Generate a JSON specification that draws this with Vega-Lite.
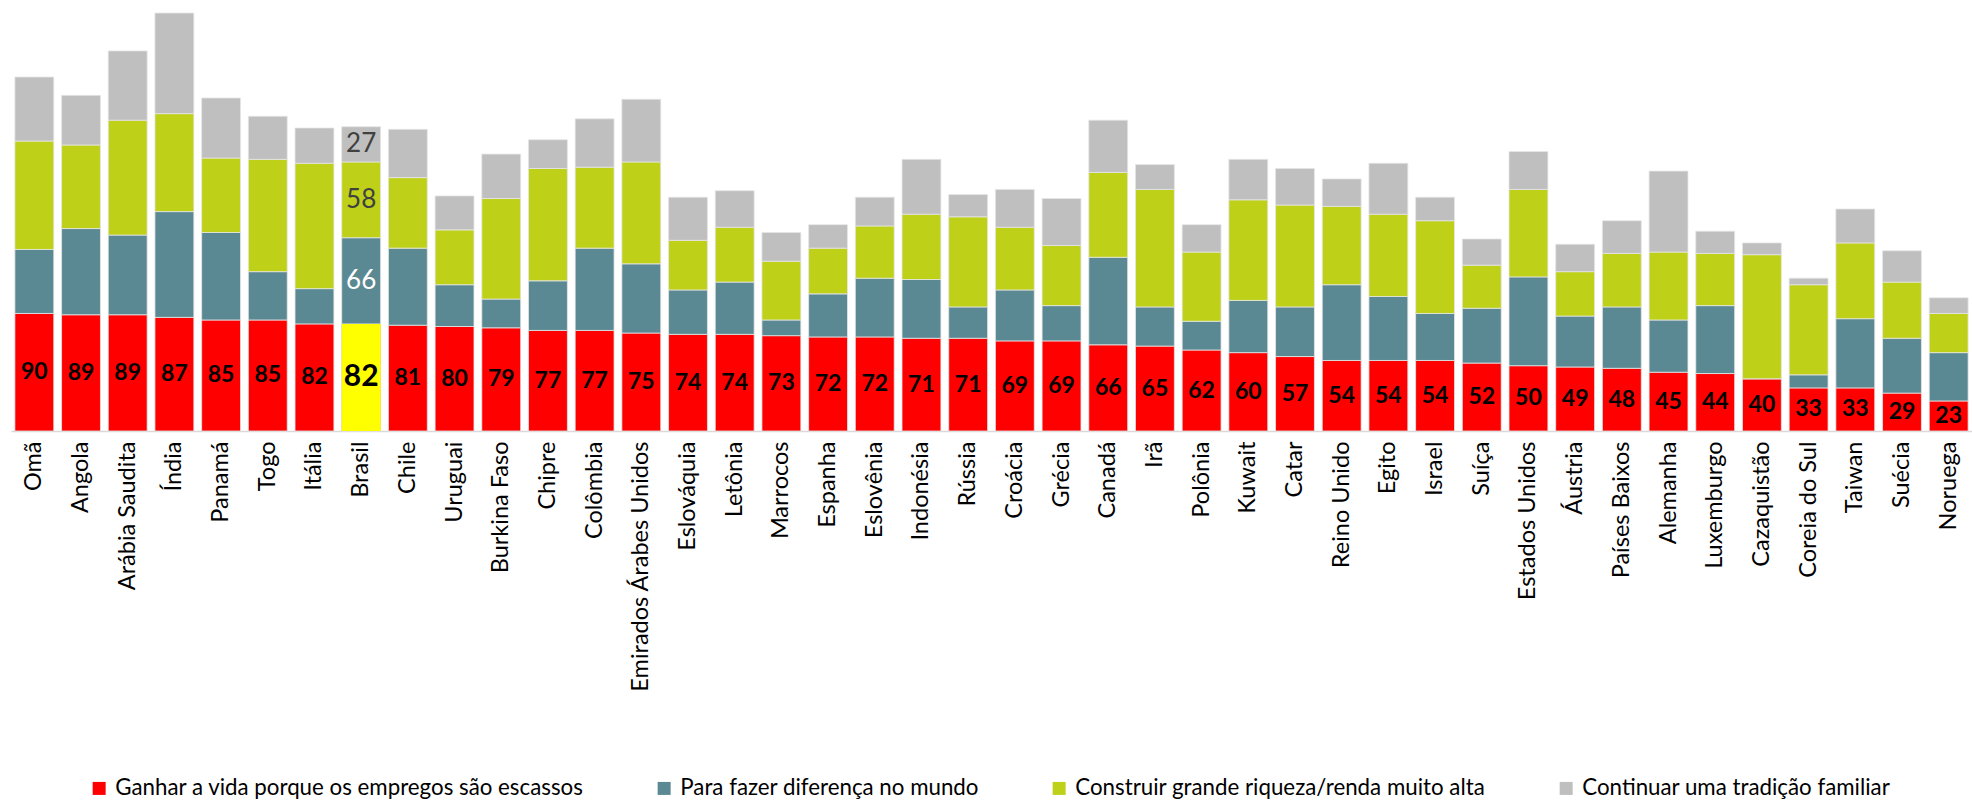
{
  "$schema": "https://vega.github.io/schema/vega-lite/v6.json",
  "width": 1961,
  "height": 431,
  "autosize": {"type": "none"},
  "padding": {"left": 11, "top": 0, "right": 0, "bottom": 370},
  "background": "white",
  "config": {"view": {"stroke": null}, "font": "Lato"},
  "datasets": {
    "wide": [
      {"pais": "Omã", "a": 90, "b": 49, "c": 83, "d": 49},
      {"pais": "Angola", "a": 89, "b": 66, "c": 64, "d": 38},
      {"pais": "Arábia Saudita", "a": 89, "b": 61, "c": 88, "d": 53},
      {"pais": "Índia", "a": 87, "b": 81, "c": 75, "d": 77},
      {"pais": "Panamá", "a": 85, "b": 67, "c": 57, "d": 46},
      {"pais": "Togo", "a": 85, "b": 37, "c": 86, "d": 33},
      {"pais": "Itália", "a": 82, "b": 27, "c": 96, "d": 27},
      {"pais": "Brasil", "a": 82, "b": 66, "c": 58, "d": 27},
      {"pais": "Chile", "a": 81, "b": 59, "c": 54, "d": 37},
      {"pais": "Uruguai", "a": 80, "b": 32, "c": 42, "d": 26},
      {"pais": "Burkina Faso", "a": 79, "b": 22, "c": 77, "d": 34},
      {"pais": "Chipre", "a": 77, "b": 38, "c": 86, "d": 22},
      {"pais": "Colômbia", "a": 77, "b": 63, "c": 62, "d": 37},
      {"pais": "Emirados Árabes Unidos", "a": 75, "b": 53, "c": 78, "d": 48},
      {"pais": "Eslováquia", "a": 74, "b": 34, "c": 38, "d": 33},
      {"pais": "Letônia", "a": 74, "b": 40, "c": 42, "d": 28},
      {"pais": "Marrocos", "a": 73, "b": 12, "c": 45, "d": 22},
      {"pais": "Espanha", "a": 72, "b": 33, "c": 35, "d": 18},
      {"pais": "Eslovênia", "a": 72, "b": 45, "c": 40, "d": 22},
      {"pais": "Indonésia", "a": 71, "b": 45, "c": 50, "d": 42},
      {"pais": "Rússia", "a": 71, "b": 24, "c": 69, "d": 17},
      {"pais": "Croácia", "a": 69, "b": 39, "c": 48, "d": 29},
      {"pais": "Grécia", "a": 69, "b": 27, "c": 46, "d": 36},
      {"pais": "Canadá", "a": 66, "b": 67, "c": 65, "d": 40},
      {"pais": "Irã", "a": 65, "b": 30, "c": 90, "d": 19},
      {"pais": "Polônia", "a": 62, "b": 22, "c": 53, "d": 21},
      {"pais": "Kuwait", "a": 60, "b": 40, "c": 77, "d": 31},
      {"pais": "Catar", "a": 57, "b": 38, "c": 78, "d": 28},
      {"pais": "Reino Unido", "a": 54, "b": 58, "c": 60, "d": 21},
      {"pais": "Egito", "a": 54, "b": 49, "c": 63, "d": 39},
      {"pais": "Israel", "a": 54, "b": 36, "c": 71, "d": 18},
      {"pais": "Suíça", "a": 52, "b": 42, "c": 33, "d": 20},
      {"pais": "Estados Unidos", "a": 50, "b": 68, "c": 67, "d": 29},
      {"pais": "Áustria", "a": 49, "b": 39, "c": 34, "d": 21},
      {"pais": "Países Baixos", "a": 48, "b": 47, "c": 41, "d": 25},
      {"pais": "Alemanha", "a": 45, "b": 40, "c": 52, "d": 62},
      {"pais": "Luxemburgo", "a": 44, "b": 52, "c": 40, "d": 17},
      {"pais": "Cazaquistão", "a": 40, "b": 0, "c": 95, "d": 9},
      {"pais": "Coreia do Sul", "a": 33, "b": 10, "c": 69, "d": 5},
      {"pais": "Taiwan", "a": 33, "b": 53, "c": 58, "d": 26},
      {"pais": "Suécia", "a": 29, "b": 42, "c": 43, "d": 24},
      {"pais": "Noruega", "a": 23, "b": 37, "c": 30, "d": 12}
    ]
  },
  "data": {"name": "wide"},
  "transform": [
    {"fold": ["a", "b", "c", "d"], "as": ["k", "valor"]},
    {"calculate": "{'a': 'Ganhar a vida porque os empregos são escassos', 'b': 'Para fazer diferença no mundo', 'c': 'Construir grande riqueza/renda muito alta', 'd': 'Continuar uma tradição familiar'}[datum.k]", "as": "motivo"}
  ],
  "encoding": {
    "x": {
      "field": "pais",
      "type": "nominal",
      "sort": null,
      "scale": {"paddingInner": 0.167, "paddingOuter": 0.083},
      "axis": {
        "title": null,
        "labelAngle": -90,
        "labelFontSize": 23.5,
        "labelFont": "Lato",
        "labelColor": "black",
        "labelPadding": 10,
        "labelLimit": 0,
        "ticks": false,
        "domainColor": "#D9D9D9",
        "domainWidth": 1.5
      }
    }
  },
  "layer": [
    {
      "mark": {"type": "bar", "stroke": "#E6E6E6", "strokeWidth": 0.8},
      "encoding": {
        "y": {"field": "valor", "type": "quantitative", "stack": "zero", "scale": {"domain": [0, 330], "nice": false}, "axis": null},
        "color": {
          "field": "motivo",
          "type": "nominal",
          "sort": ["Ganhar a vida porque os empregos são escassos", "Para fazer diferença no mundo", "Construir grande riqueza/renda muito alta", "Continuar uma tradição familiar"],
          "scale": {
            "domain": ["Ganhar a vida porque os empregos são escassos", "Para fazer diferença no mundo", "Construir grande riqueza/renda muito alta", "Continuar uma tradição familiar"],
            "range": ["#FF0000", "#5B8993", "#BED118", "#BFBFBF"]
          },
          "legend": {
            "orient": "none",
            "legendX": 77,
            "legendY": 777,
            "direction": "horizontal",
            "columns": 4,
            "columnPadding": 69,
            "symbolType": "square",
            "symbolSize": 169,
            "symbolStrokeWidth": 0,
            "labelFontSize": 22.3,
            "labelFont": "Lato",
            "labelColor": "black",
            "labelOffset": 5,
            "labelLimit": 0,
            "title": null,
            "padding": 0
          }
        },
        "order": {"field": "k"}
      }
    },
    {
      "transform": [{"filter": "datum.pais == 'Brasil' && datum.k == 'a'"}],
      "mark": {"type": "bar", "color": "#FFFF00"},
      "encoding": {
        "y": {"field": "valor", "type": "quantitative", "scale": {"domain": [0, 330], "nice": false}, "axis": null}
      }
    },
    {
      "transform": [{"filter": "datum.k == 'a' && datum.pais != 'Brasil'"}, {"calculate": "datum.valor / 2", "as": "meio"}],
      "mark": {"type": "text", "fontWeight": "bold", "fontSize": 23, "color": "black", "baseline": "middle"},
      "encoding": {
        "y": {"field": "meio", "type": "quantitative", "scale": {"domain": [0, 330], "nice": false}, "axis": null},
        "text": {"field": "valor"}
      }
    },
    {
      "transform": [{"filter": "datum.k == 'a' && datum.pais == 'Brasil'"}, {"calculate": "datum.valor / 2", "as": "meio"}],
      "mark": {"type": "text", "fontWeight": "bold", "fontSize": 30, "color": "black", "baseline": "middle"},
      "encoding": {
        "y": {"field": "meio", "type": "quantitative", "scale": {"domain": [0, 330], "nice": false}, "axis": null},
        "text": {"field": "valor"}
      }
    },
    {
      "transform": [
        {"filter": "datum.pais == 'Brasil'"},
        {"stack": "valor", "groupby": ["pais"], "sort": [{"field": "k"}], "as": ["y0", "y1"]},
        {"filter": "datum.k != 'a'"},
        {"calculate": "(datum.y0 + datum.y1) / 2", "as": "meio"}
      ],
      "mark": {"type": "text", "fontSize": 26, "baseline": "middle"},
      "encoding": {
        "y": {"field": "meio", "type": "quantitative", "scale": {"domain": [0, 330], "nice": false}, "axis": null},
        "text": {"field": "valor"},
        "color": {"condition": {"test": "datum.k == 'b'", "value": "white"}, "value": "#404040"}
      }
    }
  ]
}
